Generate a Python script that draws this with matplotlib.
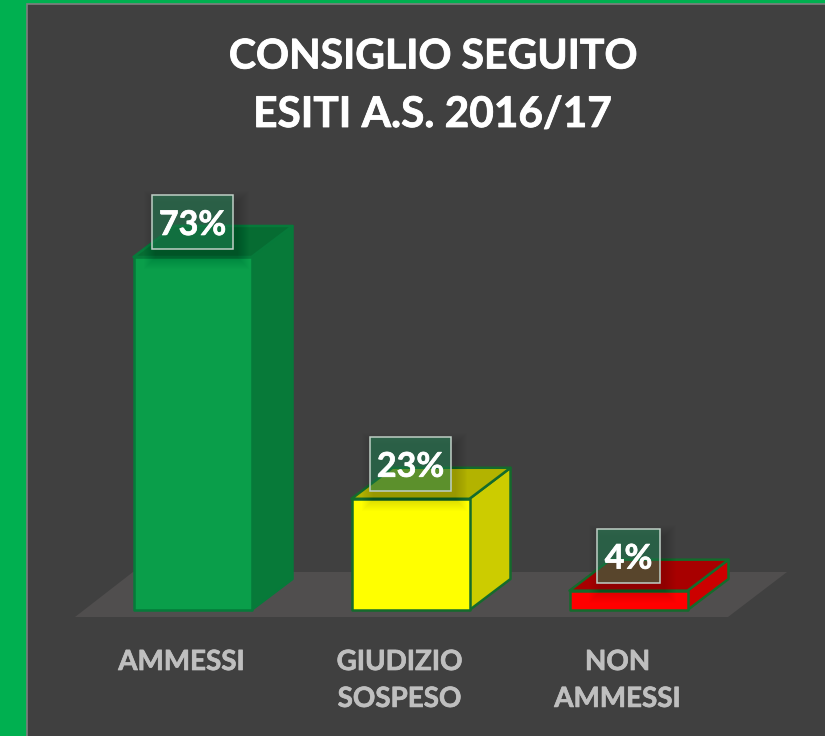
import matplotlib
matplotlib.use("Agg")
import matplotlib.pyplot as plt
import matplotlib.patheffects as pe
from matplotlib.patches import Polygon, Rectangle

categories = ["AMMESSI", "GIUDIZIO\nSOSPESO", "NON\nAMMESSI"]
values = [73, 23, 4]
value_labels = ["73%", "23%", "4%"]
title_lines = ["CONSIGLIO SEGUITO", "ESITI A.S. 2016/17"]

front_colors = ["#0A9E4A", "#FFFF00", "#FF0000"]
side_colors = ["#077A39", "#CCCC00", "#CC0000"]
top_colors = ["#066C32", "#B3B300", "#A80000"]
edge_colors = ["#067A3A", "#146B2C", "#146B2C"]

W, H = 825, 736
plt.rcParams["font.family"] = ["Lato", "DejaVu Sans"]
fig = plt.figure(figsize=(W / 100, H / 100), dpi=100, facecolor="#00B050")

# page-level panel (pixel coordinates)
bg = fig.add_axes([0, 0, 1, 1], facecolor="none")
bg.set_xlim(0, W); bg.set_ylim(H, 0); bg.axis("off")
bg.add_patch(Rectangle((27, 3.5), W, H, facecolor="#404040", edgecolor="#7F7F7F", lw=1.2))

# chart axes: category index on x, percent on y
PX_X, PX_Y = 218.0, 4.836
X0, Y0 = 192.5, 610.0
ax = fig.add_axes([0, 0, 1, 1], facecolor="none")
ax.set_xlim(-X0 / PX_X, (W - X0) / PX_X)
ax.set_ylim((Y0 - H) / PX_Y, Y0 / PX_Y)
ax.axis("off")

def px(dx):
    return dx / PX_X

def py(dy):
    return dy / PX_Y

def bold(width, color):
    return [pe.withStroke(linewidth=width, foreground=color)]

half = px(59)
dx, dy = px(41), py(31)

# floor
ax.add_patch(Polygon([(-X0 / PX_X + px(75), py(-7)), (-X0 / PX_X + px(133), py(38)),
                      (-X0 / PX_X + px(787), py(38)), (-X0 / PX_X + px(728), py(-7))],
                     closed=True, facecolor="#504E4E", edgecolor="none", zorder=1))

for i, v in enumerate(values):
    ec = edge_colors[i]
    kw = dict(closed=True, edgecolor=ec, lw=1.8, joinstyle="round", zorder=2)
    ax.add_patch(Polygon([(i + half, 0), (i + half + dx, dy), (i + half + dx, v + dy), (i + half, v)],
                         facecolor=side_colors[i], **kw))
    ax.add_patch(Polygon([(i - half, v), (i - half + dx, v + dy), (i + half + dx, v + dy), (i + half, v)],
                         facecolor=top_colors[i], **kw))
    ax.add_patch(Polygon([(i - half, 0), (i + half, 0), (i + half, v), (i - half, v)],
                         facecolor=front_colors[i], **kw))

    # data label with soft shadow
    bw = 81 if i < 2 else 63
    bh = 54
    cx = i
    cy = v + py(34.5)
    x0, y0 = cx - px(bw / 2), cy - py(bh / 2)
    for grow in range(12, 0, -1):
        ax.add_patch(Rectangle((x0 + px(4 - grow), y0 - py(8 + grow)),
                               px(bw + 2 * grow), py(bh + 2 * grow),
                               facecolor="black", edgecolor="none", alpha=0.012, zorder=3))
    ax.add_patch(Rectangle((x0, y0), px(bw), py(bh), facecolor="#228A58", alpha=0.5,
                           edgecolor="none", zorder=4))
    ax.add_patch(Rectangle((x0, y0), px(bw), py(bh), facecolor="none",
                           edgecolor="#BFCFC6", lw=1.1, zorder=5))
    ax.text(cx, cy - py(2.5), value_labels[i], color="white", fontsize=24.5, fontweight="bold",
            ha="center", va="center", zorder=6, path_effects=bold(0.5, "white"))
    ax.text(i - px(11), py(-39), categories[i], color="#BFBFBF", fontsize=20, fontweight="bold",
            ha="center", va="top", linespacing=1.52, zorder=6, path_effects=bold(0.5, "#BFBFBF"))

bg.text(433, 57, title_lines[0], color="white", fontsize=29.5, fontweight="bold",
        ha="center", va="center", path_effects=bold(0.6, "white"))
bg.text(432.5, 115, title_lines[1], color="white", fontsize=30.5, fontweight="bold",
        ha="center", va="center", path_effects=bold(0.6, "white"))

fig.savefig("out.png", dpi=100, facecolor=fig.get_facecolor())
